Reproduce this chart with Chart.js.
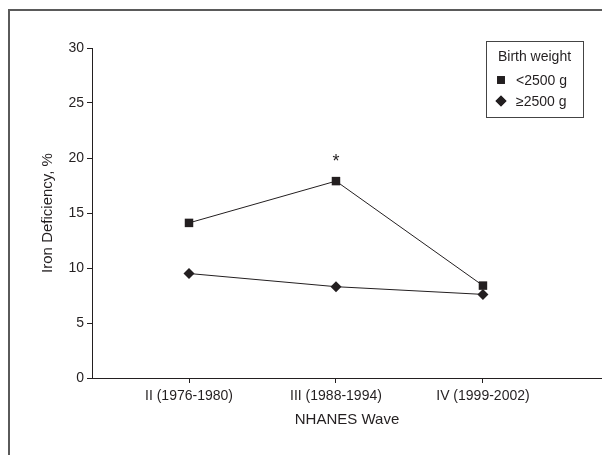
<!DOCTYPE html>
<html lang="en">
<head>
    <meta charset="UTF-8">
    <title>Iron Deficiency by NHANES Wave</title>
    <script src="https://cdn.jsdelivr.net/npm/chart.js@4.4.0/dist/chart.umd.min.js"></script>
    <style>
        html, body { margin: 0; padding: 0; background: #fff; }
        #wrap { width: 602px; height: 455px; }
    </style>
</head>
<body>
    <div id="wrap"><canvas id="myChart" width="602" height="455"></canvas></div>

    <script>
        // data
        const waves = ['II (1976-1980)', 'III (1988-1994)', 'IV (1999-2002)'];
        const lowBirthWeight = [14.1, 17.9, 8.4];   // <2500 g
        const normBirthWeight = [9.5, 8.3, 7.6];    // >=2500 g
        const significant = [false, true, false];   // asterisk above <2500 g point
        const yTicks = [0, 5, 10, 15, 20, 25, 30];
        const legendTitle = 'Birth weight';
        const seriesNames = ['<2500 g', '\u22652500 g'];

        const ink = '#231f20';
        const font = "'Liberation Sans', Arial, sans-serif";

        const toXY = arr => arr.map((v, i) => ({ x: i + 1, y: v }));

        // outer frame (only left and top edges are visible in the figure)
        const framePlugin = {
            id: 'frame',
            beforeDraw(chart) {
                const ctx = chart.ctx;
                ctx.save();
                ctx.strokeStyle = '#5a5a5a';
                ctx.lineWidth = 2;
                ctx.beginPath();
                ctx.moveTo(9, 455);
                ctx.lineTo(9, 10);
                ctx.lineTo(602, 10);
                ctx.stroke();
                ctx.restore();
            }
        };

        // asterisk and boxed legend
        const notesPlugin = {
            id: 'notes',
            afterDatasetsDraw(chart) {
                const ctx = chart.ctx;
                const xs = chart.scales.x, ys = chart.scales.y;
                ctx.save();
                ctx.fillStyle = ink;
                ctx.textAlign = 'center';
                ctx.textBaseline = 'middle';
                ctx.font = "18px " + font;
                significant.forEach((s, i) => {
                    if (!s) return;
                    ctx.fillText('*', xs.getPixelForValue(i + 1), ys.getPixelForValue(lowBirthWeight[i]) - 19);
                });

                // legend box
                const bx = 486, by = 41, bw = 97, bh = 76;
                ctx.strokeStyle = '#444';
                ctx.lineWidth = 1;
                ctx.strokeRect(bx + 0.5, by + 0.5, bw, bh);
                ctx.font = "14px " + font;
                ctx.fillText(legendTitle, bx + bw / 2, by + 16);
                ctx.textAlign = 'left';
                const styles = ['rect', 'rectRot'];
                const radii = [5.5, 5.5];
                seriesNames.forEach((name, i) => {
                    const cy = by + 39 + i * 21;
                    Chart.helpers.drawPoint(ctx, { pointStyle: styles[i], radius: radii[i], borderWidth: 0 }, bx + 15, cy);
                    ctx.fill();
                    ctx.fillText(name, bx + 30, cy + 1);
                });
                ctx.restore();
            }
        };

        const ctx = document.getElementById('myChart').getContext('2d');
        const myChart = new Chart(ctx, {
            type: 'line',
            data: {
                datasets: [{
                    label: seriesNames[0],
                    data: toXY(lowBirthWeight),
                    borderColor: ink,
                    backgroundColor: ink,
                    borderWidth: 1,
                    pointStyle: 'rect',
                    pointRadius: 6,
                    pointBorderWidth: 0,
                    fill: false
                }, {
                    label: seriesNames[1],
                    data: toXY(normBirthWeight),
                    borderColor: ink,
                    backgroundColor: ink,
                    borderWidth: 1,
                    pointStyle: 'rectRot',
                    pointRadius: 5.5,
                    pointBorderWidth: 0,
                    fill: false
                }]
            },
            options: {
                responsive: false,
                animation: false,
                layout: { autoPadding: false, padding: { top: 48, right: 0, bottom: 0, left: 0 } },
                plugins: {
                    legend: { display: false },
                    tooltip: { enabled: false }
                },
                scales: {
                    x: {
                        type: 'linear',
                        min: 0.34,
                        max: 3.81,
                        afterBuildTicks: s => { s.ticks = waves.map((w, i) => ({ value: i + 1 })); },
                        afterFit: s => { s.height = 77; },
                        ticks: {
                            callback: v => waves[v - 1],
                            color: ink,
                            font: { family: font, size: 14 },
                            padding: 5,
                            maxRotation: 0,
                            autoSkip: false
                        },
                        grid: { drawOnChartArea: false, drawTicks: true, tickLength: 5, color: ink },
                        border: { color: ink, width: 1 },
                        title: {
                            display: true,
                            text: 'NHANES Wave',
                            color: ink,
                            font: { family: font, size: 15 },
                            padding: { top: 0, bottom: 26 }
                        }
                    },
                    y: {
                        min: 0,
                        max: 30,
                        afterBuildTicks: s => { s.ticks = yTicks.map(v => ({ value: v })); },
                        afterFit: s => { s.width = 92; },
                        ticks: {
                            color: ink,
                            font: { family: font, size: 14 },
                            padding: 3
                        },
                        grid: { drawOnChartArea: false, drawTicks: true, tickLength: 5, color: ink },
                        border: { color: ink, width: 1 },
                        title: {
                            display: true,
                            text: 'Iron Deficiency, %',
                            color: ink,
                            font: { family: font, size: 15 },
                            padding: { top: 39, bottom: 0 }
                        }
                    }
                }
            },
            plugins: [framePlugin, notesPlugin]
        });
    </script>
</body>
</html>
